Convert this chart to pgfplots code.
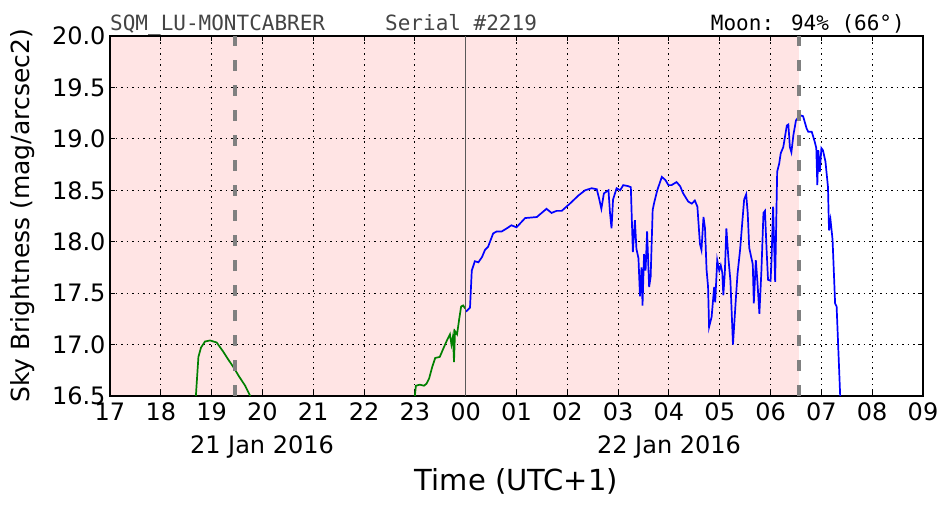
\documentclass[border=0pt]{standalone}
\usepackage{pgfplots}
\pgfplotsset{compat=1.18}
\usepackage{fontspec}
\setmainfont{DejaVu Sans}
\newfontfamily\monofont{DejaVu Sans Mono}
\definecolor{pinkbg}{RGB}{255,228,228}
\definecolor{titlegray}{RGB}{68,68,68}
\definecolor{mplgreen}{RGB}{0,128,0}
\begin{document}
\begin{tikzpicture}
\begin{axis}[
  set layers,
  at={(110pt,116pt)}, anchor=south west,
  width=813pt, height=360pt, scale only axis,
  xmin=17, xmax=33, ymin=16.5, ymax=20,
  xtick={17,...,33},
  xticklabels={17,18,19,20,21,22,23,00,01,02,03,04,05,06,07,08,09},
  ytick={16.5,17,17.5,18,18.5,19,19.5,20},
  yticklabels={16.5,17.0,17.5,18.0,18.5,19.0,19.5,20.0},
  grid=major,
  major grid style={black, line width=0.9pt, dash pattern=on 1.5pt off 4pt},
  axis line style={black, line width=1.6pt},
  tick align=inside, major tick length=5pt,
  tick style={black, line width=1pt},
  tick label style={font=\fontsize{24}{28}\selectfont},
  xticklabel style={yshift=-3pt},
  yticklabel style={xshift=-1pt},
  /pgf/number format/assume math mode=true,
]
\pgfonlayer{axis background}
\fill[pinkbg] (axis cs:17,16.5) rectangle (axis cs:30.56,20);
\endpgfonlayer

\addplot[mplgreen, line width=1.7pt] coordinates {
(18.69,16.50) (18.74,16.88) (18.79,16.97) (18.87,17.03) (18.97,17.04)
(19.10,17.02) (19.23,16.93) (19.32,16.86) (19.43,16.78) (19.54,16.69)
(19.66,16.60) (19.76,16.50)};

\addplot[mplgreen, line width=1.7pt] coordinates {
(23.00,16.50) (23.02,16.60) (23.10,16.61) (23.18,16.60) (23.23,16.62)
(23.28,16.67) (23.34,16.78) (23.40,16.87) (23.49,16.88) (23.55,16.95)
(23.63,17.04) (23.69,17.10) (23.72,17.00) (23.75,17.08) (23.77,16.83)
(23.79,17.13) (23.83,17.10) (23.87,17.24) (23.91,17.37) (23.95,17.38)
(23.99,17.35)};

\addplot[blue, line width=1.7pt] coordinates {
(24.006,17.32) (24.085,17.36) (24.12,17.72) (24.18,17.81) (24.25,17.80)
(24.32,17.85) (24.38,17.92) (24.44,17.95) (24.54,18.08) (24.61,18.10)
(24.71,18.10) (24.81,18.13) (24.90,18.16) (25.00,18.14) (25.17,18.23)
(25.40,18.24) (25.59,18.32) (25.69,18.28) (25.79,18.30) (25.89,18.30)
(26.05,18.37) (26.22,18.45) (26.35,18.50) (26.48,18.52) (26.58,18.51)
(26.63,18.41) (26.67,18.32) (26.72,18.47) (26.81,18.50) (26.84,18.28)
(26.87,18.13) (26.90,18.41) (26.97,18.52) (27.04,18.50) (27.10,18.55)
(27.20,18.54) (27.25,18.53) (27.27,18.21) (27.29,17.90) (27.33,18.21)
(27.36,17.93) (27.40,17.84) (27.43,17.47) (27.46,17.75) (27.48,17.38)
(27.51,17.88) (27.54,17.72) (27.57,18.10) (27.61,17.56) (27.64,17.66)
(27.68,18.31) (27.71,18.38) (27.77,18.50) (27.86,18.63) (27.93,18.60)
(27.99,18.55) (28.05,18.55) (28.15,18.58) (28.22,18.54) (28.28,18.47)
(28.38,18.39) (28.45,18.37) (28.51,18.40) (28.56,18.34) (28.61,17.98)
(28.64,17.92) (28.68,18.24) (28.71,18.13) (28.74,17.73) (28.77,17.56)
(28.79,17.17) (28.84,17.27) (28.89,17.56) (28.91,17.41) (28.95,17.82)
(28.99,17.72) (29.02,17.77) (29.05,17.70) (29.07,17.48) (29.10,17.70)
(29.13,18.13) (29.17,17.84) (29.21,17.62) (29.26,17.00) (29.32,17.47)
(29.35,17.69) (29.40,17.92) (29.45,18.23) (29.48,18.41) (29.52,18.46)
(29.55,18.28) (29.58,17.94) (29.65,17.78) (29.67,17.40) (29.71,17.82)
(29.74,17.62) (29.78,17.30) (29.82,17.72) (29.86,18.28) (29.89,18.30)
(29.92,17.94) (29.95,17.63) (30.00,17.62) (30.02,17.84) (30.05,18.34)
(30.09,17.61) (30.13,18.68) (30.17,18.76) (30.20,18.86) (30.25,18.92)
(30.32,19.13) (30.35,19.14) (30.38,18.92) (30.41,18.87) (30.45,19.04)
(30.50,19.18) (30.58,19.23) (30.64,19.22) (30.71,19.10) (30.74,19.07)
(30.81,19.07) (30.87,18.97) (30.90,18.91) (30.92,18.55) (30.94,18.89)
(30.97,18.68) (31.00,18.91) (31.03,18.89) (31.08,18.78) (31.13,18.53)
(31.15,18.11) (31.18,18.21) (31.22,18.02) (31.27,17.40) (31.30,17.37)
(31.37,16.50)};

\addplot[black!65, line width=1.4pt, forget plot] coordinates {(24,16.5) (24,20)};
\addplot[gray, line width=4pt, dash pattern=on 11pt off 14pt, forget plot]
  coordinates {(19.46,16.5) (19.46,20)};
\addplot[gray, line width=4pt, dash pattern=on 11pt off 14pt, forget plot]
  coordinates {(30.56,16.5) (30.56,20)};
\end{axis}

\node[anchor=base west, inner sep=0, text=titlegray, font=\monofont\fontsize{21}{24}\selectfont] at (110pt,481pt) {SQM\char`\_LU-MONTCABRER};
\node[anchor=base west, inner sep=0, text=titlegray, font=\monofont\fontsize{21}{24}\selectfont] at (385pt,481pt) {Serial \#2219};
\node[anchor=base east, inner sep=0, text=black, font=\monofont\fontsize{21}{24}\selectfont] at (905pt,481pt) {Moon: 94\% (66°)};

\node[anchor=base, inner sep=0, font=\fontsize{24}{28}\selectfont] at (262pt,59pt) {21 Jan 2016};
\node[anchor=base, inner sep=0, font=\fontsize{24}{28}\selectfont] at (669pt,59pt) {22 Jan 2016};
\node[anchor=base, inner sep=0, font=\fontsize{29}{34}\selectfont] at (516.5pt,22pt) {Time (UTC+1)};
\node[rotate=90, anchor=center, inner sep=0, font=\fontsize{25}{30}\selectfont] at (23pt,296pt) {Sky Brightness (mag/arcsec2)};
\pgfresetboundingbox
\path[use as bounding box] (0pt,0pt) rectangle (952pt,512pt);
\end{tikzpicture}
\end{document}
